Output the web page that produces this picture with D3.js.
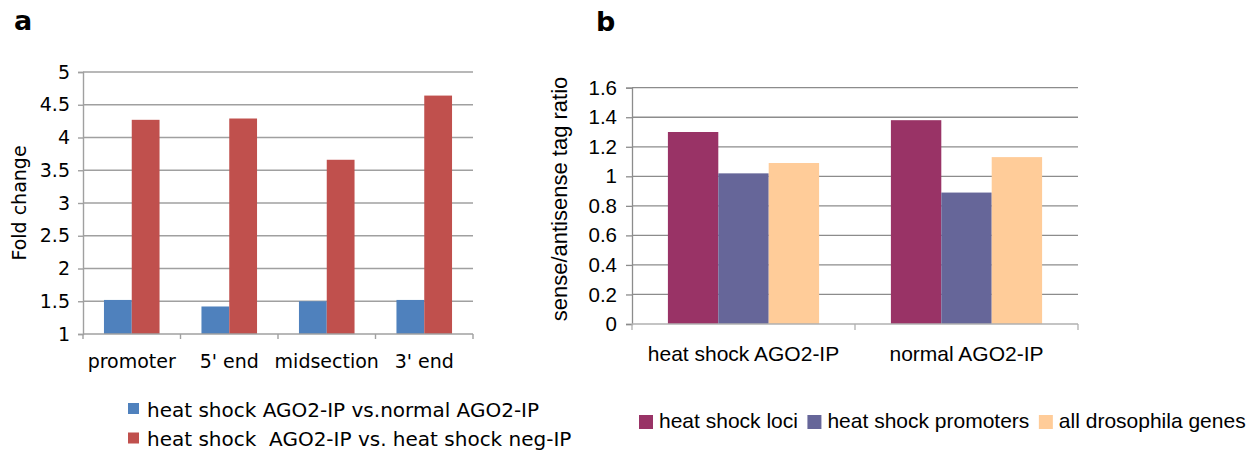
<!DOCTYPE html>
<html>
<head>
<meta charset="utf-8">
<script src="https://cdn.jsdelivr.net/npm/d3@7"></script>
<style>
  body { margin: 0; background: #fff; }
  text { white-space: pre; }
</style>
</head>
<body>
<div id="chart"></div>
<script>
const W = 1256, H = 451;

// panel a data
const regions = ["promoter", "5' end", "midsection", "3' end"];
const seriesA = ["heat shock AGO2-IP vs.normal AGO2-IP", "heat shock  AGO2-IP vs. heat shock neg-IP"];
const vsNormal = [1.52, 1.42, 1.50, 1.52];
const vsNeg = [4.27, 4.29, 3.66, 4.64];
const ticksA = [1, 1.5, 2, 2.5, 3, 3.5, 4, 4.5, 5];
const colorsA = ["#4f81bd", "#c0504d"];

// panel b data
const groupsB = ["heat shock AGO2-IP", "normal AGO2-IP"];
const seriesB = ["heat shock loci", "heat shock promoters", "all drosophila genes"];
const lociVals = [1.30, 1.38];
const promoterVals = [1.02, 0.89];
const allGeneVals = [1.09, 1.13];
const ticksB = [0, 0.2, 0.4, 0.6, 0.8, 1, 1.2, 1.4, 1.6];
const colorsB = ["#993366", "#666699", "#ffcc99"];

const gridColor = "#a0a0a0";

var svg = d3.select("#chart").append("svg")
  .attr("width", W).attr("height", H);

// ---------- panel a ----------
var fontA = "DejaVu Sans, Verdana, sans-serif";
var ga = svg.append("g");

var xa = d3.scaleBand().domain(regions).range([83, 473]);
var xa1 = d3.scaleBand().domain(seriesA)
  .range([xa.bandwidth() * 0.215, xa.bandwidth() * 0.785]);
var ya = d3.scaleLinear().domain([1, 5]).range([334, 72]);

ga.selectAll(".grid").data(ticksA.slice(1)).enter().append("line")
  .attr("x1", 83).attr("x2", 473)
  .attr("y1", d => ya(d)).attr("y2", d => ya(d))
  .attr("stroke", gridColor).attr("stroke-width", 1.4);

var yaAxis = ga.append("g").attr("transform", "translate(83,0)")
  .call(d3.axisLeft(ya).tickValues(ticksA).tickSize(5).tickPadding(8)
    .tickFormat(d => d));
yaAxis.selectAll("text").attr("font-family", fontA).attr("font-size", "19px").attr("fill", "#000");
yaAxis.selectAll("line, path").attr("stroke", gridColor).attr("stroke-width", 1.4);

var rowsA = regions.map((r, i) => ({ region: r, vals: [vsNormal[i], vsNeg[i]] }));
ga.selectAll(".grpA").data(rowsA).enter().append("g")
  .attr("transform", d => "translate(" + xa(d.region) + ",0)")
  .selectAll("rect").data(d => d.vals.map((v, j) => ({ s: seriesA[j], v: v, j: j })))
  .enter().append("rect")
    .attr("x", d => xa1(d.s))
    .attr("width", xa1.bandwidth())
    .attr("y", d => ya(d.v))
    .attr("height", d => ya(1) - ya(d.v))
    .attr("fill", d => colorsA[d.j]);

// x axis a
var bordersA = regions.map(r => xa(r)).concat([xa.range()[1]]);
ga.append("line").attr("x1", 83).attr("x2", 473).attr("y1", 334).attr("y2", 334)
  .attr("stroke", gridColor).attr("stroke-width", 1.4);
ga.selectAll(".tickA").data(bordersA).enter().append("line")
  .attr("x1", d => d).attr("x2", d => d).attr("y1", 334).attr("y2", 339)
  .attr("stroke", gridColor).attr("stroke-width", 1.4);
ga.selectAll(".labA").data(regions).enter().append("text")
  .attr("x", d => xa(d) + xa.bandwidth() / 2).attr("y", 368)
  .attr("text-anchor", "middle")
  .attr("font-family", fontA).attr("font-size", "19px")
  .text(d => d);

ga.append("text")
  .attr("transform", "translate(26,203) rotate(-90)")
  .attr("text-anchor", "middle")
  .attr("font-family", fontA).attr("font-size", "19px")
  .text("Fold change");

ga.append("text").attr("x", 14).attr("y", 30)
  .attr("font-family", fontA).attr("font-weight", "bold").attr("font-size", "27px")
  .text("a");

var legA = ga.selectAll(".legA").data(seriesA).enter().append("g")
  .attr("transform", (d, i) => "translate(128," + (403 + i * 29.5) + ")");
legA.append("rect").attr("width", 11).attr("height", 11).attr("fill", (d, i) => colorsA[i]);
legA.append("text").attr("x", 19).attr("y", 13.5)
  .attr("font-family", fontA).attr("font-size", "20px")
  .text(d => d);

// ---------- panel b ----------
var fontB = "Liberation Sans, Arial, sans-serif";
var gb = svg.append("g");

var xb = d3.scaleBand().domain(groupsB).range([632, 1078]);
var xb1 = d3.scaleBand().domain(seriesB)
  .range([xb.bandwidth() * 0.161, xb.bandwidth() * 0.839]);
var yb = d3.scaleLinear().domain([0, 1.6]).range([324, 87.7]);

gb.selectAll(".grid").data(ticksB.slice(1)).enter().append("line")
  .attr("x1", 632).attr("x2", 1078)
  .attr("y1", d => yb(d)).attr("y2", d => yb(d))
  .attr("stroke", "#8c8c8c").attr("stroke-width", 1.3);

var ybAxis = gb.append("g").attr("transform", "translate(632,0)")
  .call(d3.axisLeft(yb).tickValues(ticksB).tickSize(6).tickPadding(9)
    .tickFormat(d => d));
ybAxis.selectAll("text").attr("font-family", fontB).attr("font-size", "20.5px").attr("fill", "#000");
ybAxis.selectAll("line, path").attr("stroke", "#8c8c8c").attr("stroke-width", 1.3);

var rowsB = groupsB.map((g, i) => ({ group: g, vals: [lociVals[i], promoterVals[i], allGeneVals[i]] }));
gb.selectAll(".grpB").data(rowsB).enter().append("g")
  .attr("transform", d => "translate(" + xb(d.group) + ",0)")
  .selectAll("rect").data(d => d.vals.map((v, j) => ({ s: seriesB[j], v: v, j: j })))
  .enter().append("rect")
    .attr("x", d => xb1(d.s))
    .attr("width", xb1.bandwidth())
    .attr("y", d => yb(d.v))
    .attr("height", d => yb(0) - yb(d.v))
    .attr("fill", d => colorsB[d.j]);

var bordersB = groupsB.map(g => xb(g)).concat([xb.range()[1]]);
gb.append("line").attr("x1", 632).attr("x2", 1078).attr("y1", 324).attr("y2", 324)
  .attr("stroke", "#b0b0b0").attr("stroke-width", 1.3);
gb.selectAll(".tickB").data(bordersB).enter().append("line")
  .attr("x1", d => d).attr("x2", d => d).attr("y1", 324).attr("y2", 330)
  .attr("stroke", "#b0b0b0").attr("stroke-width", 1.3);
gb.selectAll(".labB").data(groupsB).enter().append("text")
  .attr("x", d => xb(d) + xb.bandwidth() / 2).attr("y", 361)
  .attr("text-anchor", "middle")
  .attr("font-family", fontB).attr("font-size", "21px")
  .text(d => d);

gb.append("text")
  .attr("transform", "translate(567,199) rotate(-90)")
  .attr("text-anchor", "middle")
  .attr("font-family", fontB).attr("font-size", "22px")
  .text("sense/antisense tag ratio");

gb.append("text").attr("x", 596).attr("y", 31)
  .attr("font-family", fontA).attr("font-weight", "bold").attr("font-size", "27px")
  .text("b");

// legend b, laid out left to right
var legBx = 639;
seriesB.forEach((s, i) => {
  var g = gb.append("g").attr("transform", "translate(" + legBx + ",415)");
  g.append("rect").attr("width", 14).attr("height", 14).attr("fill", colorsB[i]);
  var t = g.append("text").attr("x", 20).attr("y", 12.7)
    .attr("font-family", fontB).attr("font-size", "21px").text(s);
  legBx += 20 + t.node().getComputedTextLength() + 9.5;
});
</script>
</body>
</html>
